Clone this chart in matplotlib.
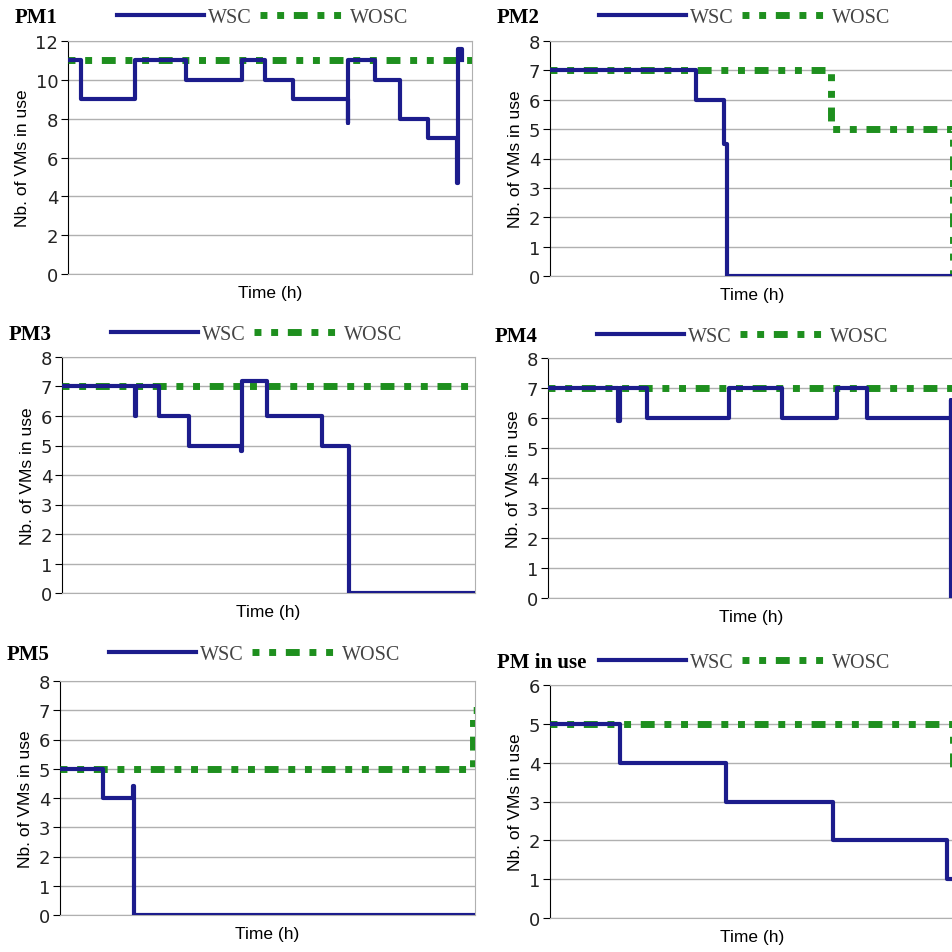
import numpy as np
import matplotlib.pyplot as plt
from matplotlib.lines import Line2D

# time axis is unitless in the original, read as % of the plotted span
# WSC = with server consolidation, WOSC = without

pm1_t = [0, 3.3, 16.5, 29.2, 43.0, 48.8, 55.6, 69.2, 69.4, 76.0, 82.2, 89.1, 96.3, 96.5, 97.6]
pm1_wsc = [11, 9, 11, 10, 11, 10, 9, 7.8, 11, 10, 8, 7, 4.7, 11.6, 11]
pm1_wosc_t = [0, 100]
pm1_wosc = [11, 11]

pm2_t = [0, 36.0, 43.0, 43.6, 100]
pm2_wsc = [7, 6, 4.5, 0, 0]
pm2_wosc_t = [0, 69.5, 99.5, 100]
pm2_wosc = [7, 5, 0, 0]

pm3_t = [0, 17.7, 18.0, 23.6, 30.8, 43.3, 43.5, 49.6, 62.9, 69.6, 100]
pm3_wsc = [7, 6, 7, 6, 5, 4.8, 7.2, 6, 5, 0, 0]
pm3_wosc_t = [0, 100]
pm3_wosc = [7, 7]

pm4_t = [0, 17.3, 17.7, 24.3, 44.4, 57.6, 71.0, 78.4, 98.9, 99.1, 100]
pm4_wsc = [7, 5.9, 7, 6, 7, 6, 7, 6, 6.6, 0, 0]
pm4_wosc_t = [0, 100]
pm4_wosc = [7, 7]

pm5_t = [0, 10.3, 17.5, 17.8, 100]
pm5_wsc = [5, 4, 4.4, 0, 0]
pm5_wosc_t = [0, 99.6, 100]
pm5_wosc = [5, 7, 7]

pmu_t = [0, 17.2, 43.5, 70.0, 98.0, 100]
pmu_wsc = [5, 4, 3, 2, 1, 1]
pmu_wosc_t = [0, 99.5, 100]
pmu_wosc = [5, 3.9, 3.9]

panels = [
    ("PM1", pm1_t, pm1_wsc, pm1_wosc_t, pm1_wosc, 12, 2, [68, 42, 472, 275], 18),
    ("PM2", pm2_t, pm2_wsc, pm2_wosc_t, pm2_wosc, 8, 1, [550, 42, 955, 277], 18),
    ("PM3", pm3_t, pm3_wsc, pm3_wosc_t, pm3_wosc, 8, 1, [62, 358, 475, 594], 335),
    ("PM4", pm4_t, pm4_wsc, pm4_wosc_t, pm4_wosc, 8, 1, [548, 359, 955, 599], 337),
    ("PM5", pm5_t, pm5_wsc, pm5_wosc_t, pm5_wosc, 8, 1, [60, 682, 475, 916], 655),
    ("PM in use", pmu_t, pmu_wsc, pmu_wosc_t, pmu_wosc, 6, 1, [550, 686, 955, 919], 663),
]

navy = '#1c1c8c'
green = '#1e8f1e'
W = 953.0
green_dash = (1.0, 1.4, 1.0, 1.4, 2.0, 1.4)

fig = plt.figure(figsize=(9.53, 9.53), dpi=100)

for name, t, wsc, wt, wosc, ymax, step, box, ly in panels:
    x0, y0, x1, y1 = box
    ax = fig.add_axes([x0 / W, 1 - y1 / W, (x1 - x0) / W, (y1 - y0) / W])
    ax.set_xlim(0, 100)
    ax.set_ylim(0, ymax)
    ax.set_yticks(np.arange(0, ymax + 1, step))
    ax.set_xticks([])
    ax.grid(axis='y', color='#b0b0b0', linewidth=1)
    ax.set_axisbelow(True)
    for s in ['top', 'right', 'bottom']:
        ax.spines[s].set_color('#b0b0b0')
    ax.spines['left'].set_color('black')
    ax.tick_params(axis='y', length=5, color='black', labelsize=13,
                   labelcolor='#222222', pad=2)

    ax.plot(wt, wosc, drawstyle='steps-post', color=green, linewidth=5,
            dashes=green_dash, zorder=3)
    ax.plot(t, wsc, drawstyle='steps-post', color=navy, linewidth=3, zorder=4)

    ax.set_ylabel('Nb. of VMs in use', fontsize=12.5, family='Liberation Sans',
                  labelpad=4)
    ax.set_xlabel('Time (h)', fontsize=12.5, family='Liberation Sans', labelpad=8)

    fig.text((x0 - 53) / W, 1 - ly / W, name, fontsize=15, family='Liberation Serif',
             fontweight='bold', va='center', ha='left')

    handles = [Line2D([], [], color=navy, linewidth=3),
               Line2D([], [], color=green, linewidth=5, dashes=green_dash)]
    cx = 195 / (x1 - x0)
    cy = (y1 - ly) / (y1 - y0)
    leg = ax.legend(handles, ['WSC', 'WOSC'], loc='center', bbox_to_anchor=(cx, cy),
                    ncol=2, frameon=False, handlelength=4.3, handletextpad=0.2,
                    columnspacing=0.4, borderaxespad=0,
                    prop={'family': 'Liberation Serif', 'size': 14.5})
    for txt in leg.get_texts():
        txt.set_color('#444444')

fig.savefig('out.png', dpi=100)
